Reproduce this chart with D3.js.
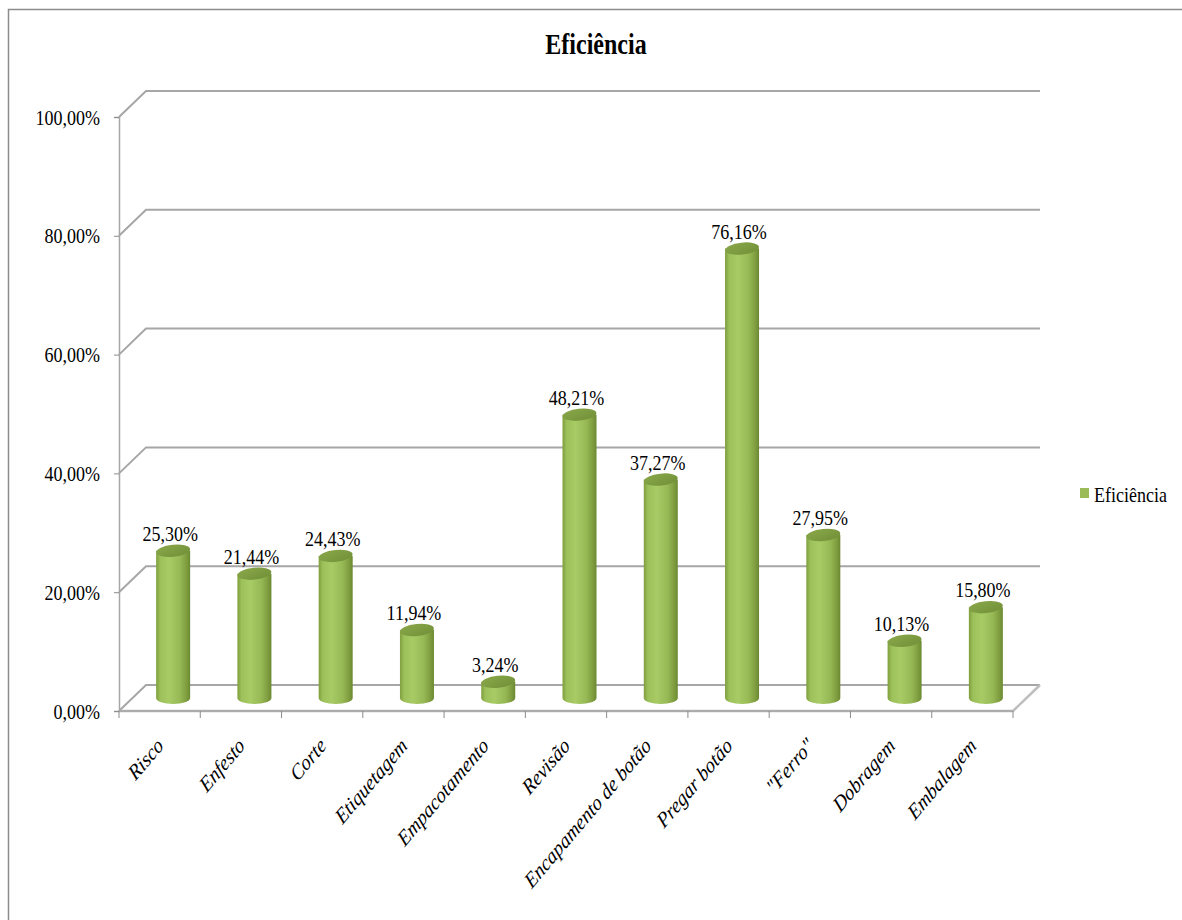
<!DOCTYPE html>
<html>
<head>
<meta charset="utf-8">
<script src="https://cdn.jsdelivr.net/npm/d3@7"></script>
<style>
  html, body { margin: 0; padding: 0; background: #fff; }
  svg { display: block; }
  svg text { font-family: "Liberation Serif", "Times New Roman", "DejaVu Serif", serif !important; }
</style>
</head>
<body>
<svg id="chart" width="1182" height="920"></svg>
<script>
// Etapas do processo e respectiva eficiência (%)
const categories = ["Risco", "Enfesto", "Corte", "Etiquetagem", "Empacotamento", "Revisão",
  "Encapamento de botão", "Pregar botão", "\"Ferro\"", "Dobragem", "Embalagem"];
const eficiencia = [25.30, 21.44, 24.43, 11.94, 3.24, 48.21, 37.27, 76.16, 27.95, 10.13, 15.80];
const yTicks = [0, 20, 40, 60, 80, 100];
const seriesName = "Eficiência";
const chartTitle = "Eficiência";

const svg = d3.select("#chart");
const fmt = v => d3.format(".2f")(v).replace(".", ",") + "%";
const stretch = 1.22; // text is drawn slightly taller than wide

// Plot area (front plane) and 3D depth offset of the back wall
const x = d3.scaleBand().domain(categories).range([119, 1013]);
const y = d3.scaleLinear().domain([0, 100]).range([711, 117]);
const depthX = 27, depthY = -26;

// Outer chart frame
svg.append("rect")
  .attr("x", 8.5).attr("y", 9.5).attr("width", 1200).attr("height", 940)
  .attr("fill", "none").attr("stroke", "#8c8c8c").attr("stroke-width", 1.5);

// Title
svg.append("text")
  .attr("transform", `translate(596,54) scale(1,${stretch})`)
  .attr("text-anchor", "middle")
  .style("font-size", "24px").style("font-weight", "bold")
  .attr("fill", "#000")
  .text(chartTitle);

const gridColor = "#a6a6a6";
const grid = svg.append("g");

// Back-wall gridlines with the diagonal running to the front axis
yTicks.forEach(t => {
  const yf = y(t);
  grid.append("path")
    .attr("d", `M${x.range()[0]},${yf} L${x.range()[0] + depthX},${yf + depthY} L${x.range()[1] + depthX},${yf + depthY}`)
    .attr("fill", "none").attr("stroke", gridColor).attr("stroke-width", 2);
});

// Floor outline
grid.append("path")
  .attr("d", `M${x.range()[0]},${y(0)} L${x.range()[1]},${y(0)} L${x.range()[1] + depthX},${y(0) + depthY}`)
  .attr("fill", "none").attr("stroke", "#bdbdbd").attr("stroke-width", 2.5);
grid.append("path")
  .attr("d", `M${x.range()[0]},${y(0)} L${x.range()[1]},${y(0)}`)
  .attr("fill", "none").attr("stroke", "#9a9a9a").attr("stroke-width", 1);

// Front value axis
const yAxis = d3.axisLeft(y).tickValues(yTicks).tickFormat(fmt).tickSize(5).tickPadding(14);
const yg = svg.append("g").attr("transform", "translate(119,0)").call(yAxis);
yg.select(".domain").attr("stroke", "#a6a6a6").attr("stroke-width", 1.5);
yg.selectAll(".tick line").attr("stroke", "#8c8c8c");
yg.selectAll(".tick text")
  .attr("x", null).attr("dy", null)
  .attr("transform", `translate(-19,7) scale(1,${stretch})`)
  .style("font-size", "18px")
  .attr("fill", "#000");

// Category boundary ticks
const bounds = categories.map(c => x(c)).concat([x.range()[1]]);
svg.append("g").selectAll("line").data(bounds).join("line")
  .attr("x1", d => d).attr("x2", d => d)
  .attr("y1", y(0)).attr("y2", y(0) + 7)
  .attr("stroke", "#8c8c8c").attr("stroke-width", 1);

// Cylinder gradients
const defs = svg.append("defs");
const bodyGrad = defs.append("linearGradient").attr("id", "cylBody").attr("x1", "0").attr("x2", "1").attr("y1", "0").attr("y2", "0");
[[0, "#7f9e3d"], [0.12, "#9cc05a"], [0.38, "#a8cb66"], [0.7, "#97b955"], [0.9, "#7e9c3e"], [1, "#6a8830"]]
  .forEach(([o, c]) => bodyGrad.append("stop").attr("offset", o).attr("stop-color", c));
const capGrad = defs.append("linearGradient").attr("id", "cylTop").attr("x1", "0").attr("x2", "1").attr("y1", "0").attr("y2", "1");
[[0, "#8aa84a"], [1, "#718f37"]]
  .forEach(([o, c]) => capGrad.append("stop").attr("offset", o).attr("stop-color", c));

// Cylinders
const rx = 17, ry = 6;
const data = categories.map((c, i) => ({ c, v: eficiencia[i] }));
const cx = d => x(d.c) + x.bandwidth() / 2 + depthX / 2;
const baseY = y(0) + depthY / 2;
const topY = d => y(d.v) - 10;

const bars = svg.append("g").selectAll("g").data(data).join("g");
bars.append("path")
  .attr("d", d => {
    const l = cx(d) - rx, r = cx(d) + rx;
    return `M${l},${topY(d)} L${l},${baseY} A${rx},${ry} 0 0 0 ${r},${baseY} L${r},${topY(d)} Z`;
  })
  .attr("fill", "url(#cylBody)");
bars.append("ellipse")
  .attr("cx", cx).attr("cy", topY)
  .attr("rx", rx).attr("ry", ry)
  .attr("transform", d => `rotate(-6,${cx(d)},${topY(d)})`)
  .attr("fill", "url(#cylTop)");

// Value labels
bars.append("text")
  .attr("transform", d => `translate(${cx(d) - 3},${topY(d) - ry - 4}) scale(1,${stretch})`)
  .attr("text-anchor", "middle")
  .style("font-size", "18px").attr("fill", "#000")
  .text(d => fmt(d.v));

// Rotated category labels
svg.append("g").selectAll("text").data(categories).join("text")
  .attr("transform", c => `translate(${x(c) + x.bandwidth() / 2 + 5},${y(0) + 36}) scale(1,1.18) rotate(-45)`)
  .attr("text-anchor", "end")
  .style("font-size", "18.5px").style("font-style", "italic").attr("fill", "#000")
  .text(c => c);

// Legend
const lg = svg.append("g").attr("transform", "translate(1080,488)");
lg.append("rect").attr("width", 9).attr("height", 10).attr("fill", "#9bbb59");
lg.append("text").attr("transform", `translate(14,14) scale(1,${stretch})`)
  .style("font-size", "18px").attr("fill", "#000").text(seriesName);
</script>
</body>
</html>
